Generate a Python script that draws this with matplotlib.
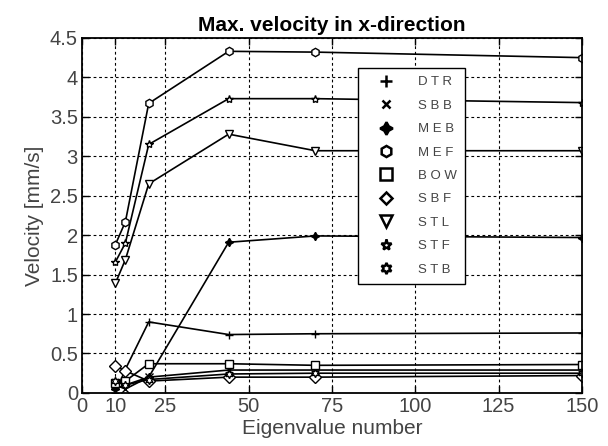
import matplotlib.pyplot as plt
from matplotlib.lines import Line2D

plt.rcParams['font.family'] = ['Liberation Sans', 'DejaVu Sans']

# eigenvalue numbers where the velocity was evaluated
eig = [10, 13, 20, 44, 70, 150]

names = ["DTR", "SBB", "MEB", "MEF", "BOW", "SBF", "STL", "STF", "STB"]
markers = ["+", "x", (4, 1, 0), "h", "s", "D", "v", "*", (6, 1, 0)]
filled = [True, True, True, False, False, False, False, False, False]

dtr = [0.0, 0.30, 0.90, 0.74, 0.75, 0.76]
sbb = [0.10, 0.05, 0.20, 0.29, 0.29, 0.29]
meb = [0.05, 0.10, 0.20, 1.91, 1.99, 1.97]
mef = [1.88, 2.17, 3.67, 4.33, 4.32, 4.25]
bow = [0.12, 0.15, 0.37, 0.37, 0.35, 0.36]
sbf = [0.34, 0.28, 0.15, 0.20, 0.20, 0.22]
stl = [1.39, 1.69, 2.65, 3.28, 3.07, 3.07]
stf = [1.66, 1.90, 3.15, 3.73, 3.73, 3.68]
stb = [0.15, 0.10, 0.17, 0.24, 0.25, 0.25]
series = [dtr, sbb, meb, mef, bow, sbf, stl, stf, stb]

xticks = [0, 10, 25, 50, 75, 100, 125, 150]
yticks = [0, 0.5, 1, 1.5, 2, 2.5, 3, 3.5, 4, 4.5]

fig = plt.figure(figsize=(6.08, 4.46), dpi=100)
ax = fig.add_axes([0.135, 0.119, 0.822, 0.796])

for vals, m, f in zip(series, markers, filled):
    ax.plot(eig, vals, color="black", lw=1.2, marker=m, ms=6,
            mfc="black" if f else "white", mec="black", mew=1.0)

ax.set_xlim(0, 150)
ax.set_ylim(0, 4.5)
ax.set_xticks(xticks)
ax.set_yticks(yticks)
ax.set_yticklabels(["%g" % v for v in yticks])
ax.tick_params(direction="in", top=True, right=True, length=5,
               labelsize=14.5, labelcolor="#444444", width=1, pad=3)
ax.grid(True, color="black", linestyle=(0, (2.5, 2.5)), lw=0.8)
for sp in ax.spines.values():
    sp.set_linewidth(1.3)

ax.set_title("Max. velocity in x-direction", fontsize=15, fontweight="bold", pad=5)
ax.set_xlabel("Eigenvalue number", fontsize=15, color="#444444", labelpad=2)
ax.set_ylabel("Velocity [mm/s]", fontsize=15, color="#444444", labelpad=4)

sizes = [9, 6, 9, 8, 9, 6.5, 9, 8, 8]
handles = [Line2D([], [], ls="none", marker=m, color="black", ms=s, mew=1.8,
                  mfc="black" if f else "white", mec="black")
           for m, f, s in zip(markers, filled, sizes)]
leg = ax.legend(handles, [" ".join(n) for n in names], loc="upper left",
                bbox_to_anchor=(0.553, 0.915), fontsize=9.5, labelspacing=0.85,
                handletextpad=1.0, borderpad=0.6, handlelength=2.9,
                borderaxespad=0, fancybox=False, framealpha=1, edgecolor="black")
leg.get_frame().set_linewidth(1.0)
for t in leg.get_texts():
    t.set_color("#444444")

fig.savefig("out.png", dpi=100)
